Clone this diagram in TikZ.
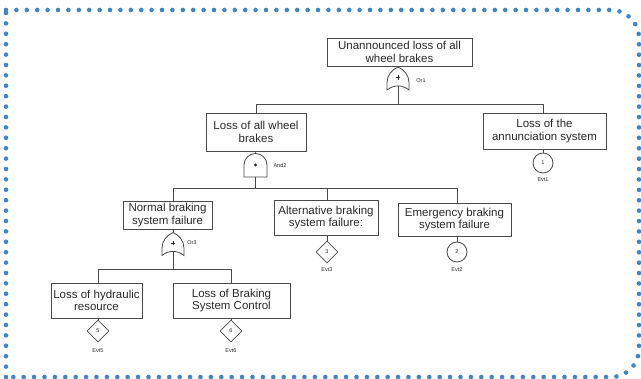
\documentclass[tikz,border=0pt]{standalone}
\usepackage{fontspec}
\setmainfont{Liberation Sans}
\usetikzlibrary{shapes.geometric}
\definecolor{dotblue}{HTML}{3F86C8}
\definecolor{ln}{HTML}{4A4A4A}
\definecolor{tx}{HTML}{2A2A2A}
\begin{document}
\begin{tikzpicture}[x=1pt,y=-1pt,
  fbox/.style={draw=ln,line width=0.8pt,fill=white,align=center,inner sep=0pt,text=tx,font=\fontsize{11.5}{12.3}\selectfont},
  gatebox/.style={minimum width=22pt,minimum height=23pt,inner sep=0pt},
  conn/.style={draw=ln,line width=0.8pt},
  gateline/.style={draw=ln,line width=0.8pt,fill=white},
  tinytext/.style={font=\fontsize{5.5}{6}\selectfont,text=tx,inner sep=0pt},
  evc/.style={circle,draw=ln,line width=0.8pt,fill=white,minimum size=20pt,inner sep=0pt,text=tx,font=\fontsize{5.5}{6}\selectfont},
  evd/.style={diamond,draw=ln,line width=0.8pt,fill=white,minimum width=22pt,minimum height=22pt,inner sep=0pt,text=tx,font=\fontsize{5.5}{6}\selectfont},
  dotborder/.style={draw=dotblue,line width=4.6pt,line cap=round,dash pattern=on 0pt off 10.4pt}
]
\useasboundingbox (0,0) rectangle (641,379);
% border
\draw[dotborder,rounded corners=28pt] (6,10) -- (639,10) -- (639,377) -- (6,377);
\draw[dotborder] (6,377) -- (6,10);

% nodes
\node[fbox,minimum width=145pt,minimum height=28pt] (top) at (399.5,52) {Unannounced loss of all\\wheel brakes};
\node[gatebox] (or1) at (398,78.5) {};
\node[tinytext] (or1l) at (421,81) {Or1};
\node[fbox,minimum width=100pt,minimum height=38pt] (wheel) at (256,132) {Loss of all wheel\\brakes};
\node[fbox,minimum width=123pt,minimum height=36pt] (ann) at (544.5,131) {Loss of the\\annunciation system};
\node[evc] (e1) at (543,163) {1};
\node[tinytext] (e1l) at (543,180) {Evt1};
\node[gatebox,minimum width=23pt,minimum height=24pt] (and2) at (255.5,165) {};
\node[tinytext] (and2l) at (280,166) {And2};
\node[fbox,minimum width=89pt,minimum height=28pt] (normal) at (167.5,215) {Normal braking\\system failure};
\node[fbox,minimum width=104pt,minimum height=35pt] (alt) at (326,217.5) {Alternative braking\\system failure:};
\node[fbox,minimum width=113pt,minimum height=33pt] (emer) at (454.5,219.5) {Emergency braking\\system failure};
\node[evd] (e3) at (327,252) {3};
\node[tinytext] (e3l) at (327,270) {Evt3};
\node[evc] (e2) at (457,252) {2};
\node[tinytext] (e2l) at (457,270) {Evt2};
\node[gatebox] (or3) at (173,244) {};
\node[tinytext] (or3l) at (192,243) {Or3};
\node[fbox,minimum width=91pt,minimum height=35pt] (hyd) at (96.5,300.5) {Loss of hydraulic\\resource};
\node[fbox,minimum width=117pt,minimum height=35pt] (bsc) at (231.5,300.5) {Loss of Braking\\System Control};
\node[evd] (e5) at (98,331) {5};
\node[tinytext] (e5l) at (98,351) {Evt5};
\node[evd] (e6) at (231,331) {6};
\node[tinytext] (e6l) at (231,351) {Evt6};

\coordinate (b1) at (398,104);
\coordinate (b2) at (255.5,188);
\coordinate (b3) at (173,269);

% connectors
\draw[conn] (top.south) -- (or1.north);
\draw[conn] ([yshift=4.1pt]or1.south) -- (b1);
\draw[conn] (wheel.north) -- (wheel.north |- b1) -- (e1 |- b1) -- (e1 |- ann.north);
\draw[conn] (wheel.south) -- (and2.north);
\draw[conn] (and2.south) -- (b2);
\draw[conn] (or3 |- normal.north) -- (or3 |- b2) -- (e2 |- b2) -- (e2 |- emer.north);
\draw[conn] (e3 |- alt.north) -- (e3 |- b2);
\draw[conn] (or3 |- normal.south) -- (or3.north);
\draw[conn] ([yshift=4.1pt]or3.south) -- (b3);
\draw[conn] (e5 |- hyd.north) -- (e5 |- b3) -- (e6 |- b3) -- (e6 |- bsc.north);
\draw[conn] (e1 |- ann.south) -- (e1.north);
\draw[conn] (e3 |- alt.south) -- (e3.north);
\draw[conn] (e2 |- emer.south) -- (e2.north);
\draw[conn] (e5 |- hyd.south) -- (e5.north);
\draw[conn] (e6 |- bsc.south) -- (e6.north);

% gates
\foreach \g in {or1,or3}{
  \begin{scope}[shift={(\g.center)}]
    \draw[gateline] (0,-11.5) .. controls (6,-9) and (11,-3) .. (11,4) -- (11,11.5) .. controls (4,6) and (-4,6) .. (-11,11.5) -- (-11,4) .. controls (-11,-3) and (-6,-9) .. cycle;
    \draw[draw=tx,line width=0.5pt] (-2.2,-1) -- (2.2,-1) (0,-3.2) -- (0,1.2);
  \end{scope}
}
\begin{scope}[shift={(and2.center)}]
  \draw[gateline] (-11.5,12) -- (-11.5,0) .. controls (-11.5,-6.35) and (-6.35,-11.5) .. (0,-11.5) .. controls (6.35,-11.5) and (11.5,-6.35) .. (11.5,0) -- (11.5,12) -- cycle;
  \fill[tx] (0,0) circle[radius=1.6pt];
\end{scope}
\end{tikzpicture}
\end{document}
